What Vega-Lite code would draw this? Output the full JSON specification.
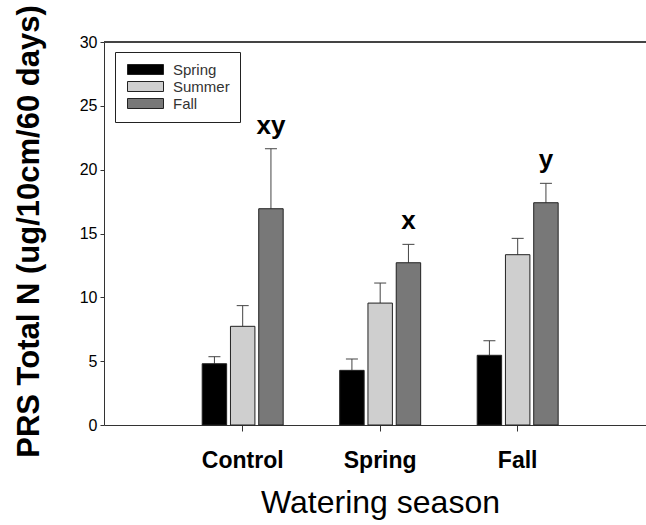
{
  "$schema": "https://vega.github.io/schema/vega-lite/v6.json",
  "width": 542,
  "height": 383,
  "autosize": {"type": "none"},
  "padding": {"left": 104, "top": 42, "right": 0, "bottom": 100},
  "background": "white",
  "config": {
    "font": "Liberation Sans",
    "view": {"stroke": null},
    "legend": {
      "orient": "none",
      "legendX": 11,
      "legendY": 10,
      "symbolType": "M-1,-1H6.2V1H-1Z",
      "symbolSize": 100,
      "symbolStrokeColor": "#222222",
      "symbolStrokeWidth": 1,
      "symbolOpacity": 1,
      "labelFontSize": 15,
      "labelColor": "#333333",
      "labelOffset": 33,
      "strokeColor": "#222222",
      "fillColor": "white",
      "padding": 10,
      "rowPadding": 1
    }
  },
  "data": {
    "values": [
      {"watering": "Control", "season": "Spring", "mean": 4.8, "upper": 5.35, "letter": ""},
      {"watering": "Control", "season": "Summer", "mean": 7.73, "upper": 9.35, "letter": ""},
      {"watering": "Control", "season": "Fall", "mean": 16.94, "upper": 21.64, "letter": "xy"},
      {"watering": "Spring", "season": "Spring", "mean": 4.28, "upper": 5.17, "letter": ""},
      {"watering": "Spring", "season": "Summer", "mean": 9.55, "upper": 11.12, "letter": ""},
      {"watering": "Spring", "season": "Fall", "mean": 12.71, "upper": 14.15, "letter": "x"},
      {"watering": "Fall", "season": "Spring", "mean": 5.46, "upper": 6.6, "letter": ""},
      {"watering": "Fall", "season": "Summer", "mean": 13.34, "upper": 14.62, "letter": ""},
      {"watering": "Fall", "season": "Fall", "mean": 17.41, "upper": 18.93, "letter": "y"}
    ]
  },
  "layer": [
    {
      "mark": {"type": "rule", "color": "#444444", "strokeWidth": 1},
      "encoding": {
        "y": {"datum": 30, "type": "quantitative", "scale": {"domain": [0, 30], "nice": false}}
      }
    },
    {
      "mark": {"type": "rule", "color": "#444444", "strokeWidth": 1},
      "encoding": {
        "x": {"field": "watering", "type": "nominal"},
        "xOffset": {"field": "season", "type": "nominal"},
        "y": {"field": "mean", "type": "quantitative"},
        "y2": {"field": "upper"}
      }
    },
    {
      "mark": {"type": "tick", "color": "#444444", "thickness": 1, "size": 12, "opacity": 1},
      "encoding": {
        "x": {"field": "watering", "type": "nominal"},
        "xOffset": {"field": "season", "type": "nominal"},
        "y": {"field": "upper", "type": "quantitative"}
      }
    },
    {
      "mark": {"type": "bar", "stroke": "#222222", "strokeWidth": 1},
      "encoding": {
        "x": {
          "field": "watering",
          "type": "nominal",
          "sort": ["Control", "Spring", "Fall"],
          "scale": {"domain": ["Control", "Spring", "Fall"], "paddingInner": 0, "paddingOuter": 0.471, "align": 0.54},
          "axis": {
            "title": "Watering season",
            "labelAngle": 0,
            "labelAlign": "center",
            "labelFontSize": 23,
            "labelFontWeight": "bold",
            "labelColor": "#000000",
            "labelBaseline": "alphabetic",
            "labelPadding": 36,
            "tickSize": 6,
            "tickColor": "#333333",
            "domainColor": "#333333",
            "titleFontSize": 32,
            "titleFontWeight": "normal",
            "titleColor": "#000000",
            "titleX": 276,
            "titleY": 87,
            "titleBaseline": "alphabetic",
            "titleAlign": "center"
          }
        },
        "xOffset": {
          "field": "season",
          "type": "nominal",
          "scale": {"domain": ["Spring", "Summer", "Fall"], "paddingInner": 0.135, "paddingOuter": 1.045}
        },
        "y": {
          "field": "mean",
          "type": "quantitative",
          "scale": {"domain": [0, 30], "nice": false},
          "axis": {
            "title": "PRS Total N (ug/10cm/60 days)",
            "values": [0, 5, 10, 15, 20, 25, 30],
            "grid": false,
            "tickSize": 4,
            "tickColor": "#333333",
            "domainColor": "#333333",
            "labelFontSize": 16,
            "labelColor": "#000000",
            "labelPadding": 3,
            "titleFontSize": 31,
            "titleFontWeight": "bold",
            "titleColor": "#000000",
            "titleAngle": -90,
            "titleX": -66,
            "titleY": 189,
            "titleAlign": "center",
            "titleBaseline": "alphabetic"
          }
        },
        "fill": {
          "field": "season",
          "type": "nominal",
          "scale": {"domain": ["Spring", "Summer", "Fall"], "range": ["#000000", "#cfcfcf", "#787878"]},
          "legend": {"title": null}
        }
      }
    },
    {
      "mark": {"type": "text", "dy": -15, "baseline": "alphabetic", "fontSize": 26, "fontWeight": "bold", "color": "#000000"},
      "encoding": {
        "x": {"field": "watering", "type": "nominal"},
        "xOffset": {"field": "season", "type": "nominal"},
        "y": {"field": "upper", "type": "quantitative"},
        "text": {"field": "letter"}
      }
    }
  ]
}
